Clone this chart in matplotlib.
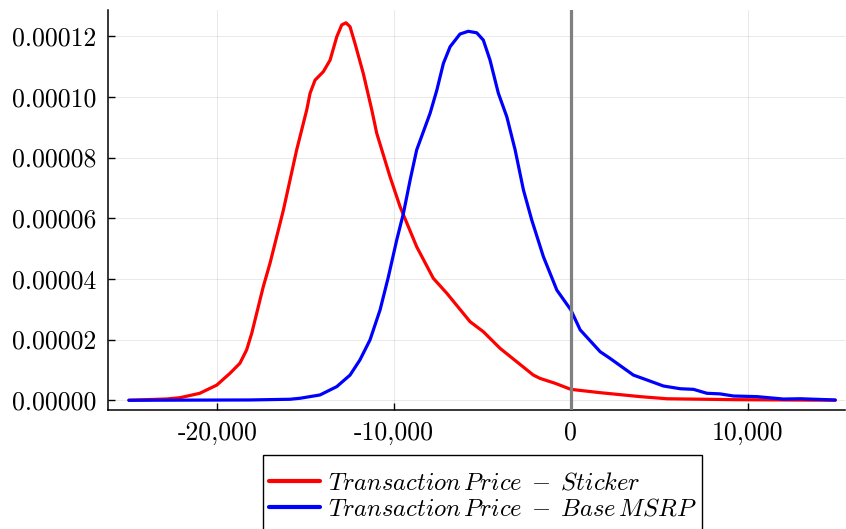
import matplotlib
matplotlib.use("Agg")
import matplotlib.pyplot as plt
from matplotlib.ticker import FixedLocator, FixedFormatter
from matplotlib.patches import Rectangle

# ---- data ----
sticker_x = [-25000, -22860, -22110, -20990, -20030, -19280, -18720, -18340, -18050, -17770,
             -17400, -17020, -16640, -16260, -15510, -14940, -14750, -14470, -14000, -13620,
             -13240, -12960, -12720, -12490, -12210, -11740, -11260, -10980, -10230, -9660,
             -8720, -7780, -7020, -5700, -4950, -4000, -2120, -1740, -890, 0, 1660, 3920,
             5430, 9190, 14960]
sticker_y = [0.0, 4.3e-7, 8.5e-7, 2.3e-6, 5.0e-6, 8.9e-6, 1.22e-5, 1.66e-5, 2.21e-5, 2.87e-5,
             3.74e-5, 4.51e-5, 5.39e-5, 6.27e-5, 8.25e-5, 9.57e-5, 1.012e-4, 1.055e-4, 1.083e-4, 1.121e-4,
             1.198e-4, 1.237e-4, 1.244e-4, 1.231e-4, 1.176e-4, 1.077e-4, 9.57e-5, 8.80e-5, 7.37e-5, 6.38e-5,
             5.06e-5, 4.02e-5, 3.53e-5, 2.59e-5, 2.26e-5, 1.71e-5, 8.3e-6, 7.2e-6, 5.6e-6, 3.6e-6, 2.5e-6, 1.2e-6,
             5e-7, 2e-7, 0.0]

base_x = [-25000, -18150, -15890, -15320, -14190, -13240, -12490, -11930, -11360, -10790,
          -10320, -9850, -9470, -9090, -8720, -7960, -7580, -7210, -6830, -6270, -5800,
          -5320, -4950, -4570, -4100, -3620, -3150, -2680, -2210, -1550, -790, 0, 530,
          1660, 2220, 3540, 4300, 5240, 6190, 6940, 7700, 8450, 9200, 10530, 12030, 12980, 14960]
base_y = [0.0, 1e-7, 3.3e-7, 6.6e-7, 1.75e-6, 4.5e-6, 8.3e-6, 1.33e-5, 1.99e-5, 2.98e-5,
          4.07e-5, 5.28e-5, 6.16e-5, 7.26e-5, 8.25e-5, 9.46e-5, 1.022e-4, 1.110e-4, 1.165e-4, 1.207e-4, 1.216e-4,
          1.211e-4, 1.187e-4, 1.121e-4, 1.012e-4, 9.34e-5, 8.25e-5, 6.93e-5, 5.94e-5, 4.73e-5, 3.63e-5, 2.98e-5, 2.32e-5,
          1.60e-5, 1.38e-5, 8.3e-6, 6.7e-6, 4.7e-6, 3.8e-6, 3.6e-6, 2.3e-6, 2.1e-6, 1.4e-6, 1.2e-6, 4e-7, 5e-7, 1e-7]

xticks = [-20000, -10000, 0, 10000]
xtick_labels = ["-20,000", "-10,000", "0", "10,000"]
yticks = [0.0, 0.00002, 0.00004, 0.00006, 0.00008, 0.00010, 0.00012]
ytick_labels = ["0.00000", "0.00002", "0.00004", "0.00006", "0.00008", "0.00010", "0.00012"]
vline_x = 0
labels = [r"$Transaction\,Price\;-\;Sticker$", r"$Transaction\,Price\;-\;Base\,MSRP$"]

plt.rcParams["mathtext.fontset"] = "cm"
plt.rcParams["axes.unicode_minus"] = False

fig = plt.figure(figsize=(8.46, 5.29), dpi=100)
ax = fig.add_axes([0.1273, 0.225, 0.8717, 0.756])

l1, = ax.plot(sticker_x, sticker_y, color="#ff0000", lw=2.3, label=labels[0],
              solid_joinstyle="round", solid_capstyle="round")
l2, = ax.plot(base_x, base_y, color="#0000ff", lw=2.3, label=labels[1],
              solid_joinstyle="round", solid_capstyle="round")
ax.axvline(vline_x, color="#808080", lw=2.3, zorder=3)

ax.set_xlim(-26200, 15520)
ax.set_ylim(-3.2e-6, 1.286e-4)

ax.xaxis.set_major_locator(FixedLocator(xticks))
ax.xaxis.set_major_formatter(FixedFormatter(xtick_labels))
ax.yaxis.set_major_locator(FixedLocator(yticks))
ax.yaxis.set_major_formatter(FixedFormatter(ytick_labels))

for lab in ax.get_xticklabels() + ax.get_yticklabels():
    lab.set_fontfamily("cmr10")
    lab.set_fontsize(18.5)

ax.tick_params(direction="in", length=5, width=1, color="black", pad=8)
ax.grid(True, color="black", alpha=0.1, lw=0.6)
ax.set_axisbelow(True)
for s in ["top", "right"]:
    ax.spines[s].set_visible(False)
for s in ["left", "bottom"]:
    ax.spines[s].set_linewidth(1.1)

# legend box (its bottom runs past the figure edge, as in the reference)
frame = Rectangle((0.3105, -0.08), 0.8294 - 0.3105, 0.1399 + 0.08, transform=fig.transFigure,
                  facecolor="white", edgecolor="black", lw=1.0, clip_on=False, zorder=4)
fig.patches.append(frame)

leg = fig.legend(handles=[l1, l2], labels=labels, loc="upper left",
                 bbox_to_anchor=(0.3090, 0.1250), bbox_transform=fig.transFigure,
                 fontsize=17.7, frameon=False,
                 handlelength=2.1, handletextpad=0.3, borderpad=0.3, labelspacing=0.1,
                 borderaxespad=0)
leg.set_zorder(6)
for l in leg.get_lines():
    l.set_linewidth(3)

fig.savefig("out.png", dpi=100)
